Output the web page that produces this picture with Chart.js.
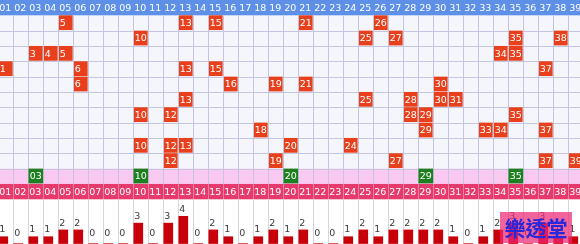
<!DOCTYPE html>
<html>
<head>
<meta charset="utf-8">
<script src="https://cdn.jsdelivr.net/npm/chart.js@4.4.1/dist/chart.umd.min.js"></script>
<style>
    html, body { margin: 0; padding: 0; background: #fff; }
    #wrap { width: 580px; height: 244px; }
</style>
</head>
<body>
<div id="wrap"><canvas id="trend" width="580" height="244"></canvas></div>
<script>
const numbers = ['01','02','03','04','05','06','07','08','09','10','11','12','13','14','15','16','17','18','19','20',
                 '21','22','23','24','25','26','27','28','29','30','31','32','33','34','35','36','37','38','39'];

// one row per draw, oldest at the top
const draws = [
    [5, 13, 15, 21, 26],
    [10, 25, 27, 35, 38],
    [3, 4, 5, 34, 35],
    [1, 6, 13, 15, 37],
    [6, 16, 19, 21, 30],
    [13, 25, 28, 30, 31],
    [10, 12, 28, 29, 35],
    [18, 29, 33, 34, 37],
    [10, 12, 13, 20, 24],
    [12, 19, 27, 37, 39]
];

// green picks in the pink row
const picks = [3, 10, 20, 29, 35];

// how often each number came up (bottom bars)
const hitCounts = [1,0,1,1,2,2,0,0,0,3,0,3,4,0,2,1,0,1,2,1,2,0,0,1,2,1,2,2,2,2,1,0,1,2,3,0,3,1,1];

const FONT = '9.5px "DejaVu Sans"';
const PICK_ROW = draws.length + 1;

const cellPoints = [];
draws.forEach((row, r) => {
    row.forEach(n => cellPoints.push({ x: n, y: [r + 1.02, r + 1.94] }));
});
const pickPoints = picks.map(n => ({ x: n, y: [PICK_ROW + 0.02, PICK_ROW + 0.94] }));
const countPoints = hitCounts.map((c, i) => ({ x: i + 1, y: c }));

const gridPlugin = {
    id: 'lottoGrid',
    beforeDatasetsDraw(chart) {
        const { ctx, scales: { x, rows } } = chart;
        const W = chart.width, H = chart.height;
        const rp = r => rows.getPixelForValue(r);
        ctx.save();
        // backgrounds
        ctx.fillStyle = '#f5f6fc';
        ctx.fillRect(0, rp(1), W, rp(PICK_ROW) - rp(1));
        ctx.fillStyle = '#5e90e8';
        ctx.fillRect(0, rp(0), W, rp(1) - rp(0));
        ctx.fillStyle = '#f9c9f1';
        ctx.fillRect(0, rp(PICK_ROW), W, rp(PICK_ROW + 1) - rp(PICK_ROW));
        ctx.fillStyle = '#e73a6c';
        ctx.fillRect(0, rp(PICK_ROW + 1), W, rp(PICK_ROW + 2) - rp(PICK_ROW + 1));

        // vertical lines
        ctx.lineWidth = 1;
        numbers.forEach((_, i) => {
            const px = Math.round(x.getPixelForValue(i + 1.5)) + 0.5;
            ctx.strokeStyle = '#c3c6de';
            ctx.beginPath();
            ctx.moveTo(px, rp(1));
            ctx.lineTo(px, rp(PICK_ROW + 1));
            ctx.stroke();
            ctx.strokeStyle = 'rgba(255,255,255,0.35)';
            ctx.beginPath();
            ctx.moveTo(px, rp(PICK_ROW + 1));
            ctx.lineTo(px, rp(PICK_ROW + 2));
            ctx.stroke();
            ctx.strokeStyle = '#d6d6de';
            ctx.beginPath();
            ctx.moveTo(px, rp(PICK_ROW + 2));
            ctx.lineTo(px, H);
            ctx.stroke();
        });
        // horizontal lines
        ctx.strokeStyle = '#c3c6de';
        for (let r = 2; r <= PICK_ROW; r++) {
            const py = Math.round(rp(r)) + 0.5;
            ctx.beginPath();
            ctx.moveTo(0, py);
            ctx.lineTo(W, py);
            ctx.stroke();
        }

        // column headers
        ctx.font = FONT;
        ctx.fillStyle = '#ffffff';
        ctx.textBaseline = 'middle';
        numbers.forEach((lbl, i) => {
            const left = x.getPixelForValue(i + 0.5);
            ctx.fillText(lbl, left + 1, (rp(0) + rp(1)) / 2 + 0.5);
            ctx.fillText(lbl, left + 1, (rp(PICK_ROW + 1) + rp(PICK_ROW + 2)) / 2 + 0.5);
        });
        ctx.restore();
    },
    afterDatasetsDraw(chart) {
        const { ctx, scales: { x, rows, cnt } } = chart;
        ctx.save();
        ctx.font = FONT;
        ctx.textBaseline = 'middle';
        ctx.fillStyle = '#ffffff';
        draws.forEach((row, r) => {
            row.forEach(n => {
                const left = x.getPixelForValue(n - 0.5);
                ctx.fillText(String(n), left + 1.5, rows.getPixelForValue(r + 1.5) + 0.5);
            });
        });
        picks.forEach(n => {
            const left = x.getPixelForValue(n - 0.5);
            ctx.fillText(numbers[n - 1], left + 1.5, rows.getPixelForValue(PICK_ROW + 0.5) + 0.5);
        });
        // count labels over the bars
        ctx.fillStyle = '#3a3a3a';
        ctx.textBaseline = 'bottom';
        hitCounts.forEach((c, i) => {
            const left = x.getPixelForValue(i + 0.5);
            const top = cnt.getPixelForValue(c);
            ctx.fillText(String(c), left + 1, top - (c ? 2 : 5));
        });

        // site stamp
        ctx.fillStyle = 'rgba(236, 40, 118, 0.72)';
        ctx.fillRect(500, 212, 72, 31);
        ctx.fillStyle = '#2727dc';
        ctx.font = 'bold 21px "Noto Sans CJK TC"';
        ctx.textAlign = 'center';
        ctx.textBaseline = 'middle';
        ctx.fillText('樂透堂', 536, 228);
        ctx.restore();
    }
};

new Chart(document.getElementById('trend'), {
    type: 'bar',
    data: {
        datasets: [{
            label: 'draws',
            data: cellPoints,
            xAxisID: 'x',
            yAxisID: 'rows',
            backgroundColor: '#e8401d',
            barThickness: 13,
            grouped: false
        }, {
            label: 'picks',
            data: pickPoints,
            xAxisID: 'x',
            yAxisID: 'rows',
            backgroundColor: '#1d7f1f',
            barThickness: 14,
            grouped: false
        }, {
            label: 'counts',
            data: countPoints,
            xAxisID: 'xb',
            yAxisID: 'cnt',
            backgroundColor: '#c8000a',
            barThickness: 9,
            grouped: false
        }]
    },
    options: {
        responsive: false,
        animation: false,
        layout: { padding: 0 },
        plugins: { legend: { display: false }, tooltip: { enabled: false } },
        scales: {
            x: { type: 'linear', display: false, offset: false, min: 0.613, max: 39.28 },
            xb: { type: 'linear', display: false, offset: false, min: 0.78, max: 39.447 },
            rows: { type: 'linear', display: false, reverse: true, min: 0, max: 15.916 },
            cnt: { type: 'linear', display: false, min: -0.07, max: 35.8 }
        }
    },
    plugins: [gridPlugin]
});
</script>
</body>
</html>
